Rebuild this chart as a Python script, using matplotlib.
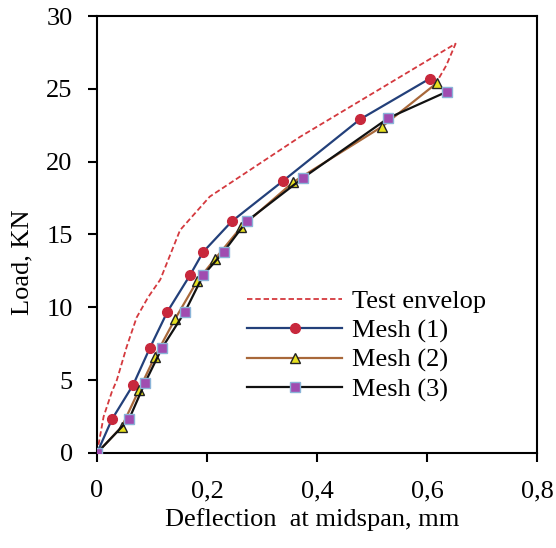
import numpy as np
import matplotlib
matplotlib.use("Agg")
import matplotlib.pyplot as plt
from matplotlib.ticker import FuncFormatter

plt.rcParams['font.family'] = ['Liberation Serif', 'DejaVu Serif']

# data (deflection in mm, load in KN)
test_x = [0, 0.012, 0.027, 0.036, 0.054, 0.072, 0.093, 0.115, 0.151, 0.205, 0.369, 0.652, 0.635, 0.615]
test_y = [0, 2.5, 4.2, 5.0, 7.3, 9.3, 10.7, 11.9, 15.3, 17.6, 21.7, 28.1, 26.6, 25.3]

mesh1_x = [0, 0.027, 0.066, 0.096, 0.128, 0.169, 0.193, 0.245, 0.339, 0.478, 0.605]
mesh1_y = [0, 2.3, 4.7, 7.2, 9.7, 12.2, 13.8, 15.9, 18.7, 22.9, 25.7]

mesh2_x = [0, 0.045, 0.076, 0.105, 0.142, 0.182, 0.214, 0.262, 0.357, 0.518, 0.618]
mesh2_y = [0, 1.8, 4.3, 6.6, 9.2, 11.8, 13.3, 15.5, 18.6, 22.4, 25.4]

mesh3_x = [0, 0.058, 0.087, 0.118, 0.160, 0.193, 0.230, 0.272, 0.375, 0.530, 0.636]
mesh3_y = [0, 2.3, 4.8, 7.2, 9.7, 12.2, 13.8, 15.9, 18.9, 23.0, 24.8]

x_ticks = [0, 0.2, 0.4, 0.6, 0.8]
y_ticks = [0, 5, 10, 15, 20, 25, 30]

FS = 19

fig = plt.figure(figsize=(5.56, 5.48), dpi=100)
ax = fig.add_axes([0.1745, 0.1734, 0.7913, 0.7974])

ax.plot(test_x, test_y, color="#D4393E", linestyle=(0, (3, 1.6)), linewidth=1.3,
        label="Test envelop", zorder=2)
ax.plot(mesh1_x, mesh1_y, color="#23407A", linewidth=1.6, marker="o", markersize=7,
        markerfacecolor="#C8283C", markeredgecolor="#C8283C", label="Mesh (1)", zorder=3)
ax.plot(mesh2_x, mesh2_y, color="#A8683A", linewidth=1.6, marker="^", markersize=7,
        markerfacecolor="#E6E020", markeredgecolor="#222222", label="Mesh (2)", zorder=3)
ax.plot(mesh3_x, mesh3_y, color="#111111", linewidth=1.6, marker="s", markersize=7,
        markerfacecolor="#A04CB0", markeredgecolor="#8AB4D8", label="Mesh (3)", zorder=4)

ax.set_xlim(0, 0.8)
ax.set_ylim(0, 30)
ax.set_xticks(x_ticks)
ax.set_yticks(y_ticks)
ax.xaxis.set_major_formatter(FuncFormatter(lambda v, p: ("%g" % round(v, 2)).replace(".", ",")))
ax.tick_params(axis="both", direction="out", length=6.5, width=1.5, labelsize=FS)
ax.tick_params(axis="y", pad=11)
ax.tick_params(axis="x", pad=13)

for s in ax.spines.values():
    s.set_linewidth(1.5)

ax.set_xlabel("Deflection  at midspan, mm", fontsize=FS)
ax.xaxis.set_label_coords(0.49, -0.127)
ax.set_ylabel("Load, KN", fontsize=FS)
ax.yaxis.set_label_coords(-0.145, 0.437)

ax.legend(loc="upper left", bbox_to_anchor=(0.341, 0.374), frameon=False, fontsize=FS,
          handlelength=3.6, labelspacing=0.22, handletextpad=0.38,
          borderpad=0, borderaxespad=0)

fig.savefig("out.png", dpi=100)
